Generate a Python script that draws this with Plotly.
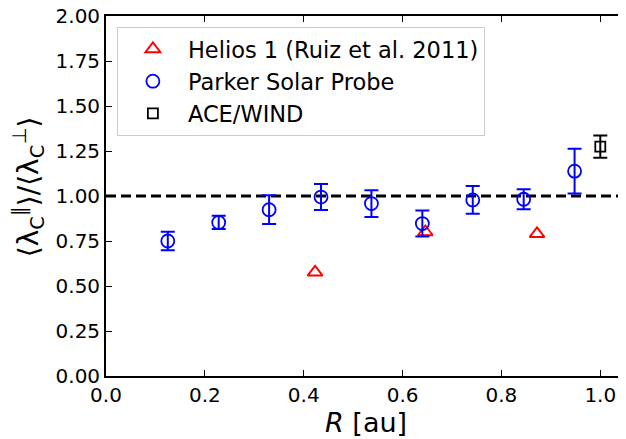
import plotly.graph_objects as go

# Helios 1 (Ruiz et al. 2011)
helios_r = [0.423, 0.646, 0.872]
helios_ratio = [0.576, 0.800, 0.790]

# Parker Solar Probe
psp_r = [0.125, 0.228, 0.330, 0.435, 0.537, 0.640, 0.742, 0.845, 0.948]
psp_ratio = [0.750, 0.853, 0.924, 0.994, 0.958, 0.847, 0.978, 0.982, 1.138]
psp_err = [0.052, 0.037, 0.080, 0.072, 0.074, 0.072, 0.077, 0.056, 0.124]

# ACE/WIND
ace_r = [1.0]
ace_ratio = [1.274]
ace_err = [0.062]

ref_level = 1.0

x_ticks = [0, 0.2, 0.4, 0.6, 0.8, 1.0]
x_ticklabels = ["0.0", "0.2", "0.4", "0.6", "0.8", "1.0"]
y_ticks = [0, 0.25, 0.5, 0.75, 1.0, 1.25, 1.5, 1.75, 2.0]
y_ticklabels = ["0.00", "0.25", "0.50", "0.75", "1.00", "1.25", "1.50", "1.75", "2.00"]

font_family = "DejaVu Sans"

fig = go.Figure()

fig.add_hline(y=ref_level, line=dict(color="black", width=2.8, dash="10px,5px"), layer="below")

fig.add_trace(go.Scatter(
    x=helios_r, y=helios_ratio, mode="markers", name="Helios 1 (Ruiz et al. 2011)",
    marker=dict(symbol="triangle-up-open", size=13, color="#ff0000", line=dict(width=1.9, color="#ff0000")),
))
fig.add_trace(go.Scatter(
    x=psp_r, y=psp_ratio, mode="markers", name="Parker Solar Probe",
    marker=dict(symbol="circle-open", size=13, color="#0000ff", line=dict(width=1.8, color="#0000ff")),
    error_y=dict(type="data", array=psp_err, visible=True, color="#0000ff", thickness=2, width=7),
))
fig.add_trace(go.Scatter(
    x=ace_r, y=ace_ratio, mode="markers", name="ACE/WIND",
    marker=dict(symbol="square-open", size=10, color="black", line=dict(width=1.8, color="black")),
    error_y=dict(type="data", array=ace_err, visible=True, color="black", thickness=2, width=7),
))

axis_common = dict(
    showline=True, linecolor="black", linewidth=1.8, mirror="allticks",
    ticks="inside", ticklen=6, tickwidth=1.4, tickcolor="black",
    showgrid=False, zeroline=False, automargin=False, ticklabeloverflow="allow",
    tickfont=dict(family=font_family, size=20, color="black"),
)

fig.update_xaxes(range=[0, 1.05], tickvals=x_ticks, ticktext=x_ticklabels, **axis_common)
fig.update_yaxes(range=[0, 2.0], tickvals=y_ticks, ticktext=y_ticklabels, **axis_common)

fig.add_annotation(
    text="<i>R</i> [au]", xref="paper", yref="paper", x=0.5, y=-0.13,
    xanchor="center", yanchor="middle", showarrow=False,
    font=dict(family=font_family, size=27, color="black"),
)
fig.add_annotation(
    text="⟨λ<sub>C</sub><sup>∥</sup>⟩/⟨λ<sub>C</sub><sup>⊥</sup>⟩", xref="paper", yref="paper",
    x=-0.15, y=0.525, xanchor="center", yanchor="middle", textangle=-90, showarrow=False,
    font=dict(family=font_family, size=28, color="black"),
)

# The page body has an 8px margin, so the figure is drawn 8px in from the top-left corner.
fig.update_layout(
    width=618, height=431,
    margin=dict(l=98, r=1, t=8, b=63),
    paper_bgcolor="white", plot_bgcolor="white",
    font=dict(family=font_family, color="black"),
    showlegend=True,
    legend=dict(
        x=0.021, y=0.97, xanchor="left", yanchor="top",
        bgcolor="rgba(255,255,255,0.8)", bordercolor="#cccccc", borderwidth=1,
        font=dict(family=font_family, size=22.5, color="black"),
        itemwidth=60, tracegroupgap=0,
    ),
)

fig.write_html("out.html")
